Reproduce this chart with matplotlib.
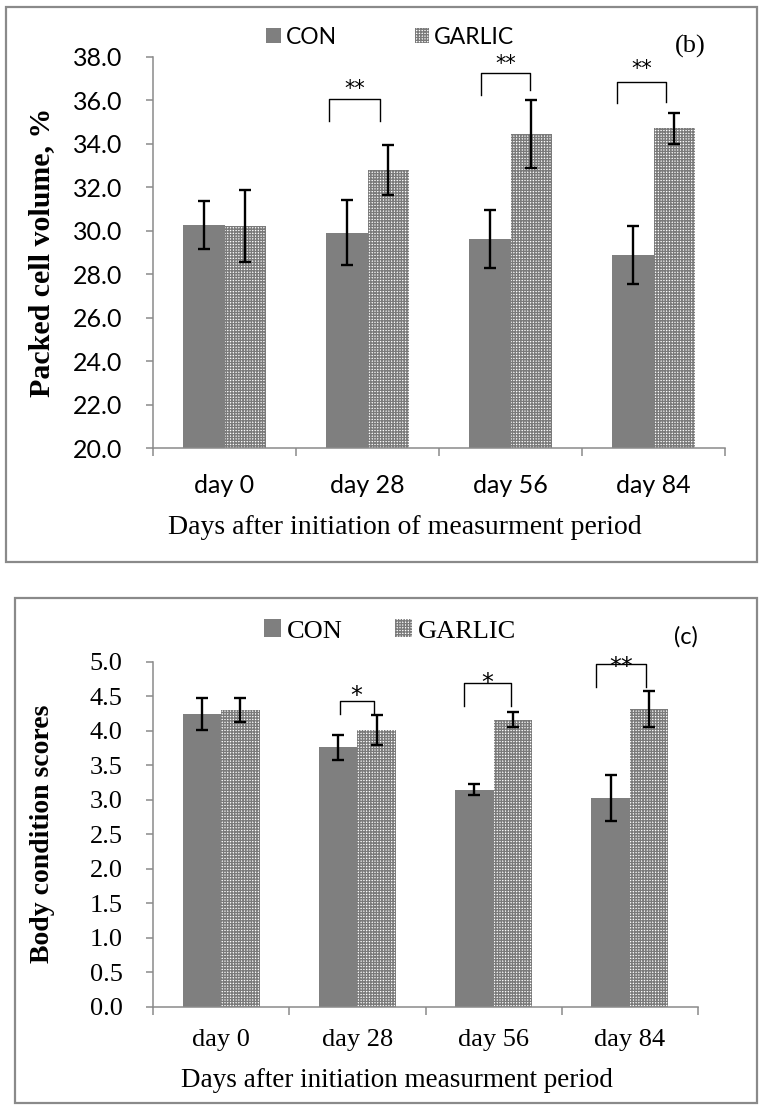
import numpy as np
import matplotlib.pyplot as plt
from matplotlib.patches import Rectangle

plt.rcParams['hatch.linewidth'] = 1.0

# data
days = ['day 0', 'day 28', 'day 56', 'day 84']
series = ['CON', 'GARLIC']

pcv_con = [30.25, 29.9, 29.62, 28.88]
pcv_con_err = [1.1, 1.5, 1.34, 1.35]
pcv_garlic = [30.2, 32.8, 34.46, 34.7]
pcv_garlic_err = [1.65, 1.15, 1.56, 0.73]
pcv_sig = ['', '**', '**', '**']

bcs_con = [4.24, 3.76, 3.14, 3.02]
bcs_con_err = [0.23, 0.18, 0.08, 0.33]
bcs_garlic = [4.30, 4.01, 4.16, 4.32]
bcs_garlic_err = [0.18, 0.22, 0.11, 0.26]
bcs_sig = ['', '*', '*', '**']

# bracket placement: left/right offset from category, top, left leg end, right leg end, star y
pcv_brk = [None,
           (-0.27, 0.085, 36.06, 35.04, 35.04, 36.5),
           (-0.206, 0.136, 37.26, 36.24, 36.48, 37.65),
           (-0.255, 0.087, 36.84, 35.87, 35.9, 37.42)]
bcs_brk = [None,
           (-0.13, 0.12, 4.43, 4.24, 4.24, 4.5),
           (-0.22, 0.13, 4.69, 4.36, 4.36, 4.69),
           (-0.25, 0.12, 4.97, 4.64, 4.64, 4.93)]

GRAY = '#8a8a8a'
CON_C = '#7f7f7f'
SANS = 'Lato'
SERIF = 'Liberation Serif'

fig = plt.figure(figsize=(7.62, 11.11), dpi=100)

# panel frames
fig.add_artist(Rectangle((6 / 762, 1 - 562 / 1111), 751 / 762, 555 / 1111, transform=fig.transFigure,
                         fill=False, edgecolor=GRAY, lw=1.6))
fig.add_artist(Rectangle((15 / 762, 1 - 1103 / 1111), 742 / 762, 505 / 1111, transform=fig.transFigure,
                         fill=False, edgecolor=GRAY, lw=1.6))


def draw_panel(ax, con, con_err, gar, gar_err, sig, brk, width, ylim, yticks,
               font, tsize, lsize, ylabel, xlabel, ysize, xsize, ylab_xy, xlab_xy,
               leg_y, colsp, star_size, xpad):
    x = np.arange(len(days))
    ax.bar(x - width / 2, con, width, color=CON_C, label=series[0], zorder=2)
    ax.bar(x + width / 2, gar, width, color='white', edgecolor='#7a7a7a', hatch='++++++',
           linewidth=0, label=series[1], zorder=2)
    ax.errorbar(x - width / 2, con, yerr=con_err, fmt='none', ecolor='black', elinewidth=1.7,
                capsize=4.5, capthick=1.7, zorder=3)
    ax.errorbar(x + width / 2, gar, yerr=gar_err, fmt='none', ecolor='black', elinewidth=1.7,
                capsize=4.5, capthick=1.7, zorder=3)

    ax.set_xlim(-0.5, len(days) - 0.5)
    ax.set_ylim(*ylim)
    ax.set_yticks(yticks)
    ax.set_yticklabels(['{:.1f}'.format(v) for v in yticks], family=font, fontsize=tsize)
    ax.set_xticks(x)
    ax.set_xticklabels(days, family=font, fontsize=tsize)
    ax.set_xticks(np.arange(len(days) + 1) - 0.5, minor=True)
    ax.tick_params(axis='x', which='major', length=0, pad=xpad)
    ax.tick_params(axis='x', which='minor', length=6, color=GRAY, width=1.1)
    ax.tick_params(axis='y', length=5, color=GRAY, width=1.1, pad=17)
    for s in ['top', 'right']:
        ax.spines[s].set_visible(False)
    for s in ['left', 'bottom']:
        ax.spines[s].set_color(GRAY)
        ax.spines[s].set_linewidth(1.1)

    ax.set_ylabel(ylabel, family=SERIF, fontsize=ysize, fontweight='bold')
    ax.yaxis.set_label_coords(*ylab_xy)
    ax.set_xlabel(xlabel, family=SERIF, fontsize=xsize)
    ax.xaxis.set_label_coords(*xlab_xy)

    # significance brackets
    for i, s in enumerate(sig):
        if not s:
            continue
        dl, dr, top, l_end, r_end, sy = brk[i]
        xl = i + dl
        xr = i + dr
        ax.plot([xl, xl, xr, xr], [l_end, top, top, r_end], color='black', lw=1.0,
                clip_on=False, zorder=4)
        ax.text((xl + xr) / 2, sy, s, ha='center', va='center', fontsize=star_size,
                family='DejaVu Sans', clip_on=False)

    ax.legend(loc='center', bbox_to_anchor=(0.512, leg_y), bbox_transform=fig.transFigure,
              ncol=2, frameon=False, prop={'family': font, 'size': lsize},
              handlelength=0.65, handleheight=0.65, handletextpad=0.2, columnspacing=colsp)


ax1 = fig.add_axes([153 / 762, 1 - 448 / 1111, 572 / 762, 391.3 / 1111])
draw_panel(ax1, pcv_con, pcv_con_err, pcv_garlic, pcv_garlic_err, pcv_sig, pcv_brk, 0.287,
           (20, 38), np.arange(20, 38.1, 2), SANS, 18, 16.5,
           'Packed cell volume, %', 'Days after initiation of measurment period', 21.5, 20,
           (-0.172, 0.5), (0.44, -0.172), 1 - 37 / 1111, 3.4, 15, 19)
fig.text(690 / 762, 1 - 46 / 1111, '(b)', family=SERIF, fontsize=19, ha='center', va='center')

ax2 = fig.add_axes([153 / 762, 1 - 1006.5 / 1111, 545 / 762, 344.8 / 1111])
draw_panel(ax2, bcs_con, bcs_con_err, bcs_garlic, bcs_garlic_err, bcs_sig, bcs_brk, 0.283,
           (0, 5), np.arange(0, 5.01, 0.5), SERIF, 19, 19,
           'Body condition scores', 'Days after initiation measurment period', 20, 19.5,
           (-0.18, 0.5), (0.448, -0.178), 1 - 631 / 1111, 2.0, 17, 16)
fig.text(686 / 762, 1 - 637 / 1111, '(c)', family=SANS, fontsize=17, ha='center', va='center')

fig.savefig('out.png', dpi=100)
